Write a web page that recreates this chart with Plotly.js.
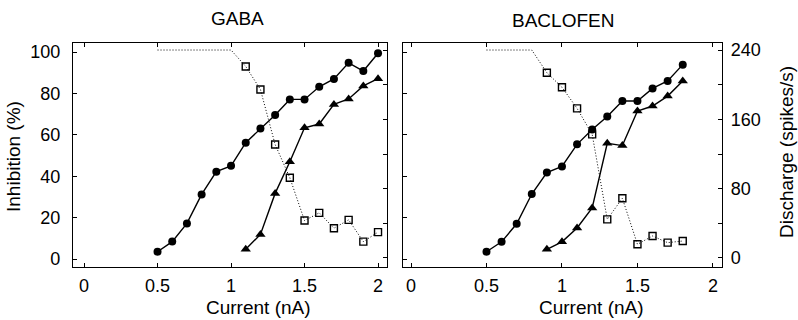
<!DOCTYPE html>
<html><head><meta charset="utf-8">
<script src="https://cdn.plot.ly/plotly-3.0.1.min.js"></script>
<style>html,body{margin:0;padding:0;background:#fff}#chart{width:798px;height:320px}</style>
</head><body><div id="chart"></div>
<script>
// ---- GABA panel ----
const gabaCircleX = [0.5,0.6,0.7,0.8,0.9,1.0,1.1,1.2,1.3,1.4,1.5,1.6,1.7,1.8,1.9,2.0];
const gabaCircle  = [3.5,8.4,17.2,31.2,42.2,45,56.2,63.1,69.6,77.1,77.1,83.2,87,94.8,90.8,99.4];
const gabaTriX = [1.1,1.2,1.3,1.4,1.5,1.6,1.7,1.8,1.9,2.0];
const gabaTri  = [4.7,11.9,31.7,47,63.4,65.2,74.7,77.3,83.6,87.1];
const gabaDischargeX = [0.5,0.6,0.7,0.8,0.9,1.0,1.1,1.2,1.3,1.4,1.5,1.6,1.7,1.8,1.9,2.0];
const gabaDischarge  = [240,240,240,240,240,240,221,194.5,131,92.6,43.2,52.1,34.4,44,18.9,29.8];
const gabaControlCount = 6;
// ---- BACLOFEN panel ----
const bacCircleX = [0.5,0.6,0.7,0.8,0.9,1.0,1.1,1.2,1.3,1.4,1.5,1.6,1.7,1.8];
const bacCircle  = [3.5,8.3,17,31.4,41.8,44.7,55.4,62.6,68.8,76.3,76.3,82.4,86,93.9];
const bacTriX = [0.9,1.0,1.1,1.2,1.3,1.4,1.5,1.6,1.7,1.8];
const bacTri  = [4.7,8.3,15,24.7,55.9,54.8,71.5,73.9,78.7,86];
const bacDischargeX = [0.5,0.6,0.7,0.8,0.9,1.0,1.1,1.2,1.3,1.4,1.5,1.6,1.7,1.8];
const bacDischarge  = [240,240,240,240,213.8,197,172.7,142.7,44.6,68.9,15.8,25.4,17.7,19.6];
const bacControlCount = 4;
// ---- labels ----
const panelTitles = ["GABA","BACLOFEN"];
const xTitle = "Current (nA)";
const yLeftTitle = "Inhibition (%)";
const yRightTitle = "Discharge (spikes/s)";

const FONT = "Liberation Sans, Arial, Helvetica, sans-serif";
const black = "#000";

function solid(x, y, xa, ya, sym, size){
  return {x:x, y:y, xaxis:xa, yaxis:ya, type:"scatter", mode:"lines+markers",
    line:{color:black, width:1.4}, marker:{symbol:sym, size:size, color:black},
    cliponaxis:false, showlegend:false, hoverinfo:"x+y"};
}
function dottedLine(x, y, xa, ya){
  return {x:x, y:y, xaxis:xa, yaxis:ya, type:"scatter", mode:"lines",
    line:{color:black, width:1, dash:"1px,2px"}, cliponaxis:false, showlegend:false, hoverinfo:"skip"};
}
function squares(x, y, xa, ya, ctrl){
  return {x:x.slice(ctrl), y:y.slice(ctrl), xaxis:xa, yaxis:ya, type:"scatter", mode:"markers",
    marker:{symbol:"square-open", size:7, color:black, line:{width:1.4, color:black}},
    cliponaxis:false, showlegend:false, hoverinfo:"x+y"};
}

const data = [
  dottedLine(gabaDischargeX, gabaDischarge, "x", "y2"),
  squares(gabaDischargeX, gabaDischarge, "x", "y2", gabaControlCount),
  solid(gabaCircleX, gabaCircle, "x", "y", "circle", 8),
  solid(gabaTriX, gabaTri, "x", "y", "triangle-up", 9),
  dottedLine(bacDischargeX, bacDischarge, "x2", "y4"),
  squares(bacDischargeX, bacDischarge, "x2", "y4", bacControlCount),
  solid(bacCircleX, bacCircle, "x2", "y3", "circle", 8),
  solid(bacTriX, bacTri, "x2", "y3", "triangle-up", 9)
];

const W=798, H=320;
const yDom = [1-267/H, 1-43/H];
const tickFont = {family:FONT, size:18, color:black};
function xAxis(dom, rng){
  return {domain:dom, range:rng, tickvals:[0,0.5,1,1.5,2], ticktext:["0","0.5","1","1.5","2"],
    ticks:"inside", ticklen:4, tickwidth:1, tickcolor:black, showline:true, linecolor:black, linewidth:1.2,
    mirror:"ticks", showgrid:false, zeroline:false, tickfont:tickFont, ticklabelstandoff:2, fixedrange:true};
}
const inhibRange = [-3.86, 104.35];
const dischRange = [-10.4, 248.1];

function ann(text, px, py, angle){
  return {text:text, x:px/W, y:1-py/H, xref:"paper", yref:"paper", xanchor:"center", yanchor:"middle",
    showarrow:false, textangle:angle||0, font:{family:FONT,size:19,color:black}};
}

const layout = {
  width:W, height:H, margin:{l:0,r:0,t:0,b:0}, paper_bgcolor:"#fff", plot_bgcolor:"rgba(0,0,0,0)",
  font:{family:FONT, color:black}, showlegend:false,
  xaxis: xAxis([73/W, 387/W], [-0.075, 2.061]),
  xaxis2: xAxis([403/W, 722/W], [-0.053, 2.06]),
  yaxis: {domain:yDom, range:inhibRange, anchor:"x", dtick:20, tick0:0, ticks:"inside", ticklen:4, tickcolor:black,
    showline:true, linecolor:black, linewidth:1.2, showgrid:false, zeroline:false, tickfont:tickFont,
    ticklabelstandoff:8, fixedrange:true},
  yaxis2: {domain:yDom, range:dischRange, overlaying:"y", anchor:"x", side:"right", dtick:40, tick0:0,
    ticks:"inside", ticklen:4, tickcolor:black, showticklabels:false, showline:true, linecolor:black, linewidth:1.2,
    showgrid:false, zeroline:false, fixedrange:true},
  yaxis3: {domain:yDom, range:inhibRange, anchor:"x2", dtick:20, tick0:0, ticks:"inside", ticklen:4, tickcolor:black,
    showticklabels:false, showline:true, linecolor:black, linewidth:1.2, showgrid:false, zeroline:false, fixedrange:true},
  yaxis4: {domain:yDom, range:dischRange, overlaying:"y3", anchor:"x2", side:"right", dtick:80, tick0:0,
    ticks:"inside", ticklen:4, tickcolor:black, minor:{dtick:40, tick0:0, ticks:"inside", ticklen:4, tickcolor:black},
    showline:true, linecolor:black, linewidth:1.2, showgrid:false, zeroline:false, tickfont:tickFont,
    ticklabelstandoff:4, fixedrange:true},
  annotations:[
    ann(panelTitles[0], 237, 19),
    ann(panelTitles[1], 563, 20),
    ann(xTitle, 258, 307),
    ann(xTitle, 591, 307),
    ann(yLeftTitle, 13, 157, -90),
    ann(yRightTitle, 786, 152, -90)
  ]
};
Plotly.newPlot("chart", data, layout, {staticPlot:true, displayModeBar:false});
</script></body></html>
